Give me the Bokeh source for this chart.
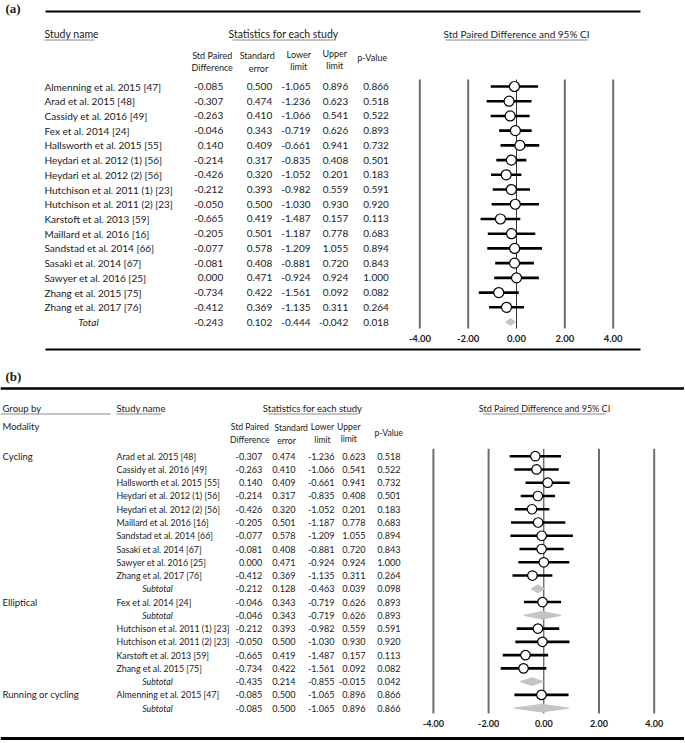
from bokeh.plotting import figure
from bokeh.models import Range1d
from bokeh.core.properties import value
from bokeh.embed import file_html
from bokeh.resources import INLINE

# ---------------- data: panel (a) ----------------
studies_a = ["Almenning et al. 2015 [47]", "Arad et al. 2015 [48]", "Cassidy et al. 2016 [49]",
             "Fex et al. 2014 [24]", "Hallsworth et al. 2015 [55]", "Heydari et al. 2012 (1) [56]",
             "Heydari et al. 2012 (2) [56]", "Hutchison et al. 2011 (1) [23]",
             "Hutchison et al. 2011 (2) [23]", "Karstoft et al. 2013  [59]", "Maillard et al. 2016 [16]",
             "Sandstad et al. 2014 [66]", "Sasaki et al. 2014 [67]", "Sawyer et al. 2016 [25]",
             "Zhang et al. 2015 [75]", "Zhang et al. 2017 [76]"]
spd_a = [-0.085, -0.307, -0.263, -0.046, 0.140, -0.214, -0.426, -0.212, -0.050, -0.665, -0.205,
         -0.077, -0.081, 0.000, -0.734, -0.412]
se_a = [0.500, 0.474, 0.410, 0.343, 0.409, 0.317, 0.320, 0.393, 0.500, 0.419, 0.501, 0.578, 0.408,
        0.471, 0.422, 0.369]
lo_a = [-1.065, -1.236, -1.066, -0.719, -0.661, -0.835, -1.052, -0.982, -1.030, -1.487, -1.187,
        -1.209, -0.881, -0.924, -1.561, -1.135]
hi_a = [0.896, 0.623, 0.541, 0.626, 0.941, 0.408, 0.201, 0.559, 0.930, 0.157, 0.778, 1.055, 0.720,
        0.924, 0.092, 0.311]
p_a = [0.866, 0.518, 0.522, 0.893, 0.732, 0.501, 0.183, 0.591, 0.920, 0.113, 0.683, 0.894, 0.843,
       1.000, 0.082, 0.264]
total_a = [-0.243, 0.102, -0.444, -0.042, 0.018]   # spd, se, lower, upper, p

# ---------------- data: panel (b) ----------------
groups_b = ["Cycling", "", "", "", "", "", "", "", "", "", "", "Elliptical", "", "", "", "", "", "",
            "Running or cycling", ""]
names_b = ["Arad et al. 2015 [48]", "Cassidy et al. 2016 [49]", "Hallsworth et al. 2015 [55]",
           "Heydari et al. 2012 (1) [56]", "Heydari et al. 2012 (2) [56]", "Maillard et al. 2016 [16]",
           "Sandstad et al. 2014 [66]", "Sasaki et al. 2014 [67]", "Sawyer et al. 2016 [25]",
           "Zhang et al. 2017 [76]", "Subtotal", "Fex et al. 2014 [24]", "Subtotal",
           "Hutchison et al. 2011 (1) [23]", "Hutchison et al. 2011 (2) [23]",
           "Karstoft et al. 2013  [59]", "Zhang et al. 2015 [75]", "Subtotal",
           "Almenning et al. 2015 [47]", "Subtotal"]
spd_b = [-0.307, -0.263, 0.140, -0.214, -0.426, -0.205, -0.077, -0.081, 0.000, -0.412, -0.212,
         -0.046, -0.046, -0.212, -0.050, -0.665, -0.734, -0.435, -0.085, -0.085]
se_b = [0.474, 0.410, 0.409, 0.317, 0.320, 0.501, 0.578, 0.408, 0.471, 0.369, 0.128, 0.343, 0.343,
        0.393, 0.500, 0.419, 0.422, 0.214, 0.500, 0.500]
lo_b = [-1.236, -1.066, -0.661, -0.835, -1.052, -1.187, -1.209, -0.881, -0.924, -1.135, -0.463,
        -0.719, -0.719, -0.982, -1.030, -1.487, -1.561, -0.855, -1.065, -1.065]
hi_b = [0.623, 0.541, 0.941, 0.408, 0.201, 0.778, 1.055, 0.720, 0.924, 0.311, 0.039, 0.626, 0.626,
        0.559, 0.930, 0.157, 0.092, -0.015, 0.896, 0.896]
p_b = [0.518, 0.522, 0.732, 0.501, 0.183, 0.683, 0.894, 0.843, 1.000, 0.264, 0.098, 0.893, 0.893,
       0.591, 0.920, 0.113, 0.082, 0.042, 0.866, 0.866]

ticks = [-4, -2, 0, 2, 4]

# ---------------- layout constants (page pixels) ----------------
W, H = 684, 742
X0, X1, Y0, Y1 = 0, W, 0, H
A_ROW0, A_STEP = 86.0, 14.72          # panel a row 0 centre / row pitch
B_ROW0, B_STEP = 455.7, 13.26
A_ZERO, A_UNIT = 516.0, 24.17         # forest a: x of 0, px per unit
B_ZERO, B_UNIT = 543.3, 27.6

FONT = value("Lato")
TXT = "#1a1a1a"
GREY_DIAMOND = "#c4c4c4"
ROW_A, HEAD_A = "10px", "9px"
ROW_B, NAME_B, HEAD_B = "9.1px", "8.8px", "8.6px"

p = figure(width=W, height=H, output_backend="svg", toolbar_location=None,
           x_range=Range1d(X0, X1), y_range=Range1d(Y1, Y0),
           x_axis_location=None, y_axis_location=None, min_border=0,
           outline_line_color=None)
p.grid.visible = False
p.extra_y_ranges = {
    "ra": Range1d(start=(Y1 - A_ROW0) / A_STEP, end=(Y0 - A_ROW0) / A_STEP),
    "rb": Range1d(start=(Y1 - B_ROW0) / B_STEP, end=(Y0 - B_ROW0) / B_STEP),
}
p.extra_x_ranges = {
    "ca": Range1d(start=(X0 - A_ZERO) / A_UNIT, end=(X1 - A_ZERO) / A_UNIT),
    "cb": Range1d(start=(X0 - B_ZERO) / B_UNIT, end=(X1 - B_ZERO) / B_UNIT),
}


def txt(x, y, t, size="10px", align="left", style="normal", color=TXT, font=FONT, **kw):
    p.text(x=x, y=y, text=t, text_font=font, text_font_size=size, text_align=align,
           text_baseline="middle", text_font_style=style, text_color=color, **kw)


fmt = lambda v: "%.3f" % v

# ================= PANEL (a) =================
txt([5], [8], ["(a)"], size="13px", style="bold", font=value("Liberation Serif"))
p.segment(x0=[45], y0=[11], x1=[640], y1=[11], line_color="black", line_width=2.2)
p.segment(x0=[45], y0=[349], x1=[640], y1=[349], line_color="black", line_width=2)

# headers
txt([44], [33], ["Study name"], size="10.5px")
txt([283], [33], ["Statistics for each study"], size="10.5px", align="center")
txt([516], [33], ["Std Paired Difference and 95% CI"], size="10px", align="center")
p.segment(x0=[44, 232, 445], y0=[39.5] * 3, x1=[94, 335, 587], y1=[39.5] * 3,
          line_color="#8a8a8a", line_width=1)
hx = [211.7, 211.7, 256.7, 258, 298.3, 298.3, 334.3, 334.3, 371.7]
hy = [54.5, 66.5, 54.5, 67.5, 53.7, 66, 52.7, 64.7, 56.7]
ht = ["Std Paired", "Difference", "Standard", "error", "Lower", "limit", "Upper", "limit", "p-Value"]
txt(hx, hy, ht, size=HEAD_A, align="center")

rows_a = list(range(len(studies_a)))
txt([44] * len(rows_a), rows_a, studies_a, size=ROW_A, y_range_name="ra")
col_right_a = [222.7, 271.7, 310, 347.7, 388.3]
for cx, vals in zip(col_right_a, [spd_a, se_a, lo_a, hi_a, p_a]):
    txt([cx] * len(vals), rows_a, [fmt(v) for v in vals], size=ROW_A, align="right",
        y_range_name="ra")
tot_row = len(studies_a)
txt([88], [tot_row], ["Total"], size=ROW_A, align="center", style="italic", y_range_name="ra")
for cx, v in zip(col_right_a, total_a):
    txt([cx], [tot_row], [fmt(v)], size=ROW_A, align="right", y_range_name="ra")

# forest (a)
side = [t for t in ticks if t != 0]
p.segment(x0=side, y0=[79] * 4, x1=side, y1=[328] * 4, line_color="#6e6e6e", line_width=2,
          x_range_name="ca")
p.segment(x0=[0], y0=[79], x1=[0], y1=[328], line_color="#333333", line_width=1, x_range_name="ca")
p.segment(x0=lo_a, y0=rows_a, x1=hi_a, y1=rows_a, line_color="black", line_width=2.6,
          x_range_name="ca", y_range_name="ra")
p.scatter(x=spd_a, y=rows_a, marker="circle", size=10, fill_color="white", line_color="black",
          line_width=1.2, x_range_name="ca", y_range_name="ra")
hh = 0.24
p.patches(xs=[[total_a[2], total_a[0], total_a[3], total_a[0]]],
          ys=[[tot_row, tot_row - hh, tot_row, tot_row + hh]], fill_color=GREY_DIAMOND,
          line_color=GREY_DIAMOND, x_range_name="ca", y_range_name="ra")
txt(ticks, [338] * len(ticks), ["%.2f" % t for t in ticks], size="9.5px", align="center",
    style="bold", x_range_name="ca")

# ================= PANEL (b) =================
txt([5], [376], ["(b)"], size="13px", style="bold", font=value("Liberation Serif"))
p.segment(x0=[X0], y0=[388], x1=[X1], y1=[388], line_color="black", line_width=2.5)
p.segment(x0=[X0], y0=[738], x1=[X1], y1=[738], line_color="black", line_width=3)

txt([2], [408], ["Group by"], size="9.5px")
txt([116], [408], ["Study name"], size="9.5px")
txt([312], [408], ["Statistics for each study"], size="9.5px", align="center")
txt([544], [408], ["Std Paired Difference and 95% CI"], size="9px", align="center")
p.segment(x0=[0, 116, 268, 483], y0=[413.5] * 4, x1=[110, 161, 357, 605], y1=[413.5] * 4,
          line_color="#8a8a8a", line_width=1)
txt([2], [425.7], ["Modality"], size="9.5px")
bhx = [249.3, 249.3, 290.7, 286, 322, 322, 348.3, 348.3, 388.3]
bhy = [426.7, 439, 427, 440.7, 426.7, 439, 426, 438.7, 432]
txt(bhx, bhy, ht, size=HEAD_B, align="center")

rows_b = list(range(len(names_b)))
g_rows = [i for i, g in enumerate(groups_b) if g]
txt([2] * len(g_rows), g_rows, [groups_b[i] for i in g_rows], size="9.5px", y_range_name="rb")
st_rows = [i for i in rows_b if names_b[i] != "Subtotal"]
sub_rows = [i for i in rows_b if names_b[i] == "Subtotal"]
txt([116] * len(st_rows), st_rows, [names_b[i] for i in st_rows], size=NAME_B, y_range_name="rb")
txt([157] * len(sub_rows), sub_rows, ["Subtotal"] * len(sub_rows), size=NAME_B, align="center",
    style="italic", y_range_name="rb")
col_right_b = [261.7, 295, 334, 365, 400]
for cx, vals in zip(col_right_b, [spd_b, se_b, lo_b, hi_b, p_b]):
    txt([cx] * len(vals), rows_b, [fmt(v) for v in vals], size=ROW_B, align="right",
        y_range_name="rb")

# forest (b)
p.segment(x0=side, y0=[448.3] * 4, x1=side, y1=[713] * 4, line_color="#6e6e6e", line_width=2,
          x_range_name="cb")
p.segment(x0=[0], y0=[448.3], x1=[0], y1=[713], line_color="#333333", line_width=1,
          x_range_name="cb")
p.segment(x0=[lo_b[i] for i in st_rows], y0=st_rows, x1=[hi_b[i] for i in st_rows], y1=st_rows,
          line_color="black", line_width=2.6, x_range_name="cb", y_range_name="rb")
p.scatter(x=[spd_b[i] for i in st_rows], y=st_rows, marker="circle", size=9.5, fill_color="white",
          line_color="black", line_width=1.2, x_range_name="cb", y_range_name="rb")
hb = 0.29
p.patches(xs=[[lo_b[i], spd_b[i], hi_b[i], spd_b[i]] for i in sub_rows],
          ys=[[i, i - hb, i, i + hb] for i in sub_rows], fill_color=GREY_DIAMOND,
          line_color=GREY_DIAMOND, x_range_name="cb", y_range_name="rb")
txt(ticks, [723] * len(ticks), ["%.2f" % t for t in ticks], size="9px", align="center",
    style="bold", x_range_name="cb")

open("out.html", "w").write(file_html(p, INLINE))
